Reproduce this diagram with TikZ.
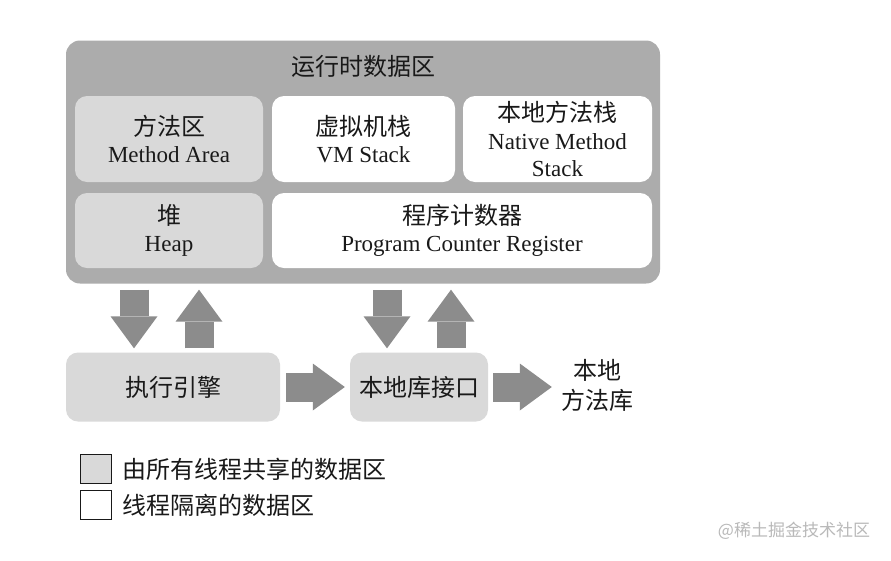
\documentclass[tikz,border=0pt]{standalone}
\usepackage{fontspec}
\setmainfont{Liberation Serif}
\newfontfamily\cjk{Noto Sans CJK SC}
\usetikzlibrary{arrows.meta}
\definecolor{OuterFill} {RGB}{172,172,172}
\definecolor{SharedFill}{RGB}{217,217,217}
\definecolor{ArrFill}   {RGB}{140,140,140}
\definecolor{TxtCol}    {RGB}{25,25,25}
\definecolor{WmCol}     {RGB}{185,185,185}
\newcommand{\zh}[1]{{\cjk\fontsize{24}{30}\selectfont #1}}
\tikzset{
  nd_outer/.style={rectangle,rounded corners=14pt,fill=OuterFill,minimum width=594pt,minimum height=243pt},
  nd_shared/.style={rectangle,rounded corners=12pt,fill=SharedFill,align=center,inner sep=0pt,text=TxtCol,font=\fontsize{23}{27.5}\selectfont},
  nd_private/.style={nd_shared,fill=white},
  nd_txt/.style={align=center,inner sep=0pt,text=TxtCol,font=\fontsize{23}{30}\selectfont},
  nd_key/.style={rectangle,draw=TxtCol,line width=0.8pt,minimum width=31pt,minimum height=29pt,inner sep=0pt},
  blk_arr/.style={line width=29pt,draw=ArrFill,-{Triangle[length=32pt,width=47pt,line width=0pt]}},
}

\begin{document}
\begin{tikzpicture}[x=1pt,y=-1pt]
\fill[white](0,0) rectangle (891,560);
\useasboundingbox (0,0) rectangle (891,560);
\def\xA{134}\def\xB{199}\def\xC{387}\def\xD{451}
% runtime data area
\node[nd_outer] at (363,162)(RDA){};
\node[nd_txt] at (363,66)(T){\zh{运行时数据区}};
\node[nd_shared,minimum width=188pt,minimum height=86pt] at (169,139)(MA){\zh{方法区}\\Method Area};
\node[nd_private,minimum width=183pt,minimum height=86pt] at (363.5,139)(VMS){\zh{虚拟机栈}\\VM Stack};
\node[nd_private,minimum width=189pt,minimum height=86pt] at (557.5,139)(NMS){\zh{本地方法栈}\\Native Method\\Stack};
\node[nd_shared,minimum width=188pt,minimum height=75pt] at (169,230.5)(HP){\zh{堆}\\Heap};
\node[nd_private,minimum width=380pt,minimum height=75pt] at (462,230.5)(PC){\zh{程序计数器}\\Program Counter Register};
% engine and native interface
\node[nd_shared,minimum width=214pt,minimum height=69pt] at (173,387)(EE){\zh{执行引擎}};
\node[nd_shared,minimum width=138pt,minimum height=69pt] at (419,387)(JNI){\zh{本地库接口}};
\node[nd_txt] at (597,385)(NL){\zh{本地}\\\zh{方法库}};
% arrows
\coordinate (cA) at (\xA,0);\coordinate (cB) at (\xB,0);
\coordinate (cC) at (\xC,0);\coordinate (cD) at (\xD,0);
\draw[blk_arr,shorten <=6pt,shorten >=4pt](RDA.south -| cA)--(EE.north -| cA);
\draw[blk_arr,shorten <=4pt,shorten >=6pt](EE.north -| cB)--(RDA.south -| cB);
\draw[blk_arr,shorten <=6pt,shorten >=4pt](RDA.south -| cC)--(JNI.north -| cC);
\draw[blk_arr,shorten <=4pt,shorten >=6pt](JNI.north -| cD)--(RDA.south -| cD);
\draw[blk_arr,shorten <=6pt,shorten >=5pt](EE.east)--(JNI.west);
\draw[blk_arr,shorten <=5pt,shorten >=9pt](JNI.east)--(NL.west |- JNI.east);
% legend
\node[nd_key,fill=SharedFill] at (96,469)(K1){};
\node[nd_key,fill=white] at (96,505)(K2){};
\node[nd_txt,anchor=west] at (122,469)(K1t){\zh{由所有线程共享的数据区}};
\node[nd_txt,anchor=west] at (122,505)(K2t){\zh{线程隔离的数据区}};
\node[font=\cjk\fontsize{17}{17}\selectfont,text=WmCol,inner sep=0pt] at (794,531)(WM){@稀土掘金技术社区};
\end{tikzpicture}
\end{document}
